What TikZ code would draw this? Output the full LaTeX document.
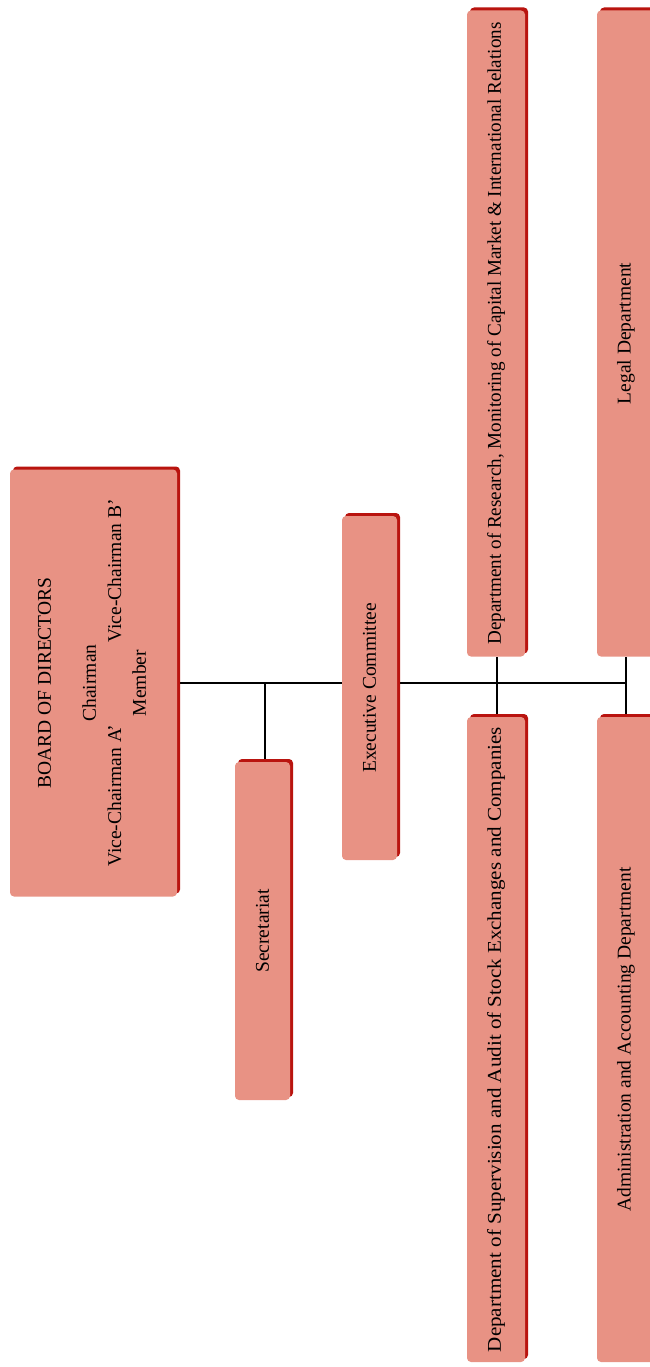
\documentclass[tikz,border=0pt]{standalone}
\usepackage{fontspec}
\setmainfont{Liberation Serif}
\usetikzlibrary{shadows,backgrounds}
\definecolor{boxfill}{RGB}{232,146,132}
\definecolor{boxshade}{RGB}{185,20,15}
\tikzset{
  orgbox/.style={rectangle, rounded corners=4pt, fill=boxfill, inner sep=0pt,
    general shadow={fill=boxshade, shadow xshift=3pt, shadow yshift=3pt},
    font=\fontsize{19.5}{25}\selectfont},
  link/.style={line width=2pt, black}
}
\begin{document}
\begin{tikzpicture}[x=1pt,y=-1pt]
\useasboundingbox (0,0) rectangle (650,1367);
\clip (0,0) rectangle (650,1367);

\node[orgbox, minimum width=167pt, minimum height=427pt] (board) at (93.5,683)
  {\rotatebox{90}{\begin{tabular}{@{}c@{}}BOARD OF DIRECTORS\\[20pt]
   Chairman\\
   Vice-Chairman A'\hspace{82pt}Vice-Chairman B'\\
   Member\end{tabular}}};
\node[orgbox, minimum width=55pt, minimum height=338pt] (sec) at (262.5,931)
  {\rotatebox{90}{Secretariat}};
\node[orgbox, minimum width=55pt, minimum height=344pt] (exec) at (369.5,688)
  {\rotatebox{90}{Executive Committee}};
\node[orgbox, minimum width=58pt, minimum height=646pt] (research) at (496,333.5)
  {\rotatebox{90}{\scalebox{0.98}[1]{Department of Research, Monitoring of Capital Market \& International Relations}}};
\node[orgbox, minimum width=58pt, minimum height=646pt] (legal) at (626,333.5)
  {\rotatebox{90}{Legal Department}};
\node[orgbox, minimum width=58pt, minimum height=645pt] (superv) at (496,1039.5)
  {\rotatebox{90}{\scalebox{1.08}[1]{Department of Supervision and Audit of Stock Exchanges and Companies}}};
\node[orgbox, minimum width=58pt, minimum height=645pt] (admin) at (626,1039.5)
  {\rotatebox{90}{Administration and Accounting Department}};

\coordinate (jS) at (265,683);
\coordinate (jA) at (497,683);
\coordinate (jB) at (626,683);

\begin{scope}[on background layer]
\draw[link] (board.east) -- (jB);
\draw[link] (jS) -- (sec.north -| jS);
\draw[link] (jA) -- (research.south -| jA);
\draw[link] (jA) -- (superv.north -| jA);
\draw[link] (jB) -- (legal.south -| jB);
\draw[link] (jB) -- (admin.north -| jB);
\end{scope}
\end{tikzpicture}
\end{document}
